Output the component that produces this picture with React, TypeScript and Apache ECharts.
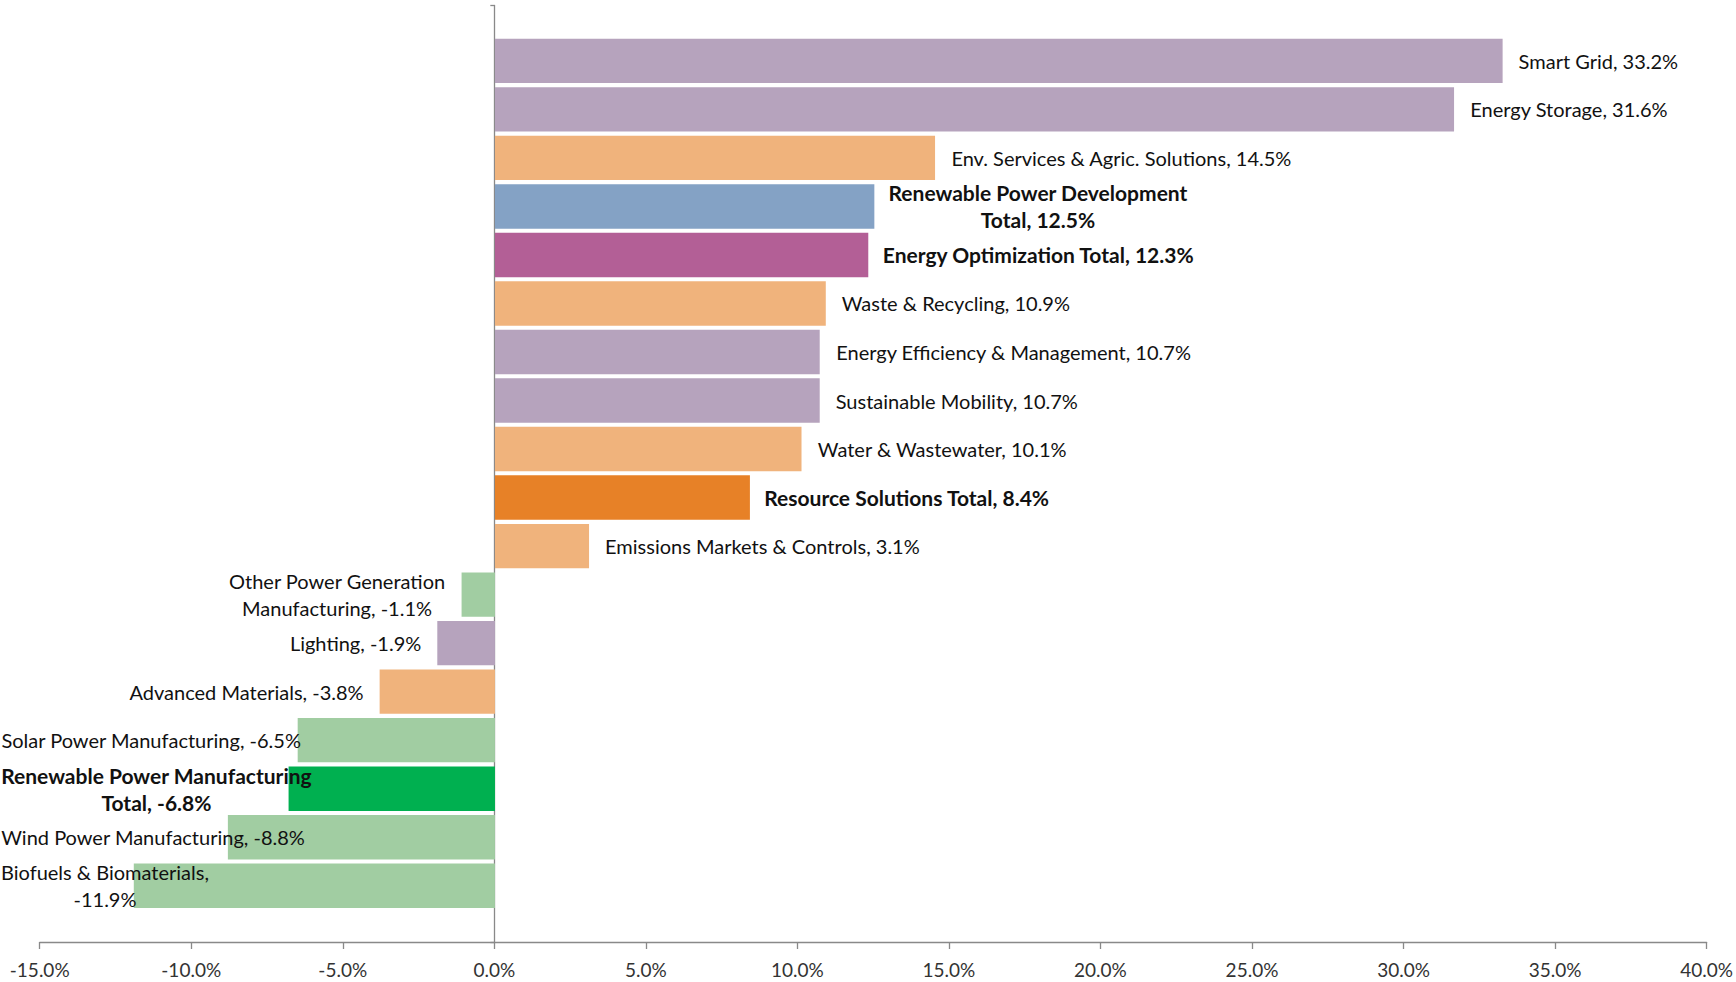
import React, { useEffect, useRef } from "react";
import * as echarts from "echarts";

const categories = [
  "Smart Grid",
  "Energy Storage",
  "Env. Services & Agric. Solutions",
  "Renewable Power Development Total",
  "Energy Optimization Total",
  "Waste & Recycling",
  "Energy Efficiency & Management",
  "Sustainable Mobility",
  "Water & Wastewater",
  "Resource Solutions Total",
  "Emissions Markets & Controls",
  "Other Power Generation Manufacturing",
  "Lighting",
  "Advanced Materials",
  "Solar Power Manufacturing",
  "Renewable Power Manufacturing Total",
  "Wind Power Manufacturing",
  "Biofuels & Biomaterials",
];

const values = [33.2, 31.6, 14.5, 12.5, 12.3, 10.9, 10.7, 10.7, 10.1, 8.4, 3.1, -1.1, -1.9, -3.8, -6.5, -6.8, -8.8, -11.9];

const groups = [
  "energy", "energy", "resource", "renewTotal", "energyTotal", "resource", "energy", "energy", "resource",
  "resourceTotal", "resource", "renew", "energy", "resource", "renew", "renewManTotal", "renew", "renew",
];

const groupColors: Record<string, string> = {
  energy: "#B6A3BD",
  resource: "#F0B37C",
  renewTotal: "#84A2C5",
  energyTotal: "#B35F96",
  resourceTotal: "#E78127",
  renew: "#A1CDA2",
  renewManTotal: "#00B050",
};

const boldGroups = ["renewTotal", "energyTotal", "resourceTotal", "renewManTotal"];

// where a label wraps onto a second line
const lineBreaks: Record<string, string> = {
  "Renewable Power Development Total": "Renewable Power Development\nTotal, {v}",
  "Other Power Generation Manufacturing": "Other Power Generation\nManufacturing, {v}",
  "Renewable Power Manufacturing Total": "Renewable Power Manufacturing\nTotal, {v}",
  "Biofuels & Biomaterials": "Biofuels & Biomaterials,\n{v}",
};

const xMin = -15;
const xMax = 40;
const xInterval = 5;

const FONT = "Lato";

export default function App() {
  const ref = useRef<HTMLDivElement>(null);
  useEffect(() => {
    if (!ref.current) return;
    const chart = echarts.init(ref.current, undefined, { renderer: "svg" });
    const data = values.map((v, i) => {
      const g = groups[i];
      const bold = boldGroups.includes(g);
      return {
        value: v,
        name: categories[i],
        itemStyle: { color: groupColors[g] },
        label: {
          position: v >= 0 ? "right" : "left",
          fontWeight: bold ? "bold" : "normal",
          fontSize: bold ? 21 : 20,
          distance: bold ? 14 : 16,
        },
      };
    });
    chart.setOption({
      animation: false,
      backgroundColor: "#ffffff",
      grid: [
        { left: 39.7, right: 27, top: 5.5, bottom: 40, containLabel: false },
        { left: 39.7, right: 27, top: 36.6, bottom: 72, containLabel: false },
      ],
      xAxis: [
        {
          type: "value",
          gridIndex: 0,
          min: xMin,
          max: xMax,
          interval: xInterval,
          splitLine: { show: false },
          axisLine: { show: true, onZero: false, lineStyle: { color: "#898989", width: 1.3 } },
          axisTick: { show: true, length: 7, lineStyle: { color: "#898989", width: 1.3 } },
          axisLabel: {
            margin: 18,
            fontFamily: FONT,
            fontSize: 19,
            color: "#333333",
            formatter: (v: number) => v.toFixed(1) + "%",
          },
        },
        {
          type: "value",
          gridIndex: 1,
          min: xMin,
          max: xMax,
          interval: xInterval,
          show: false,
          splitLine: { show: false },
        },
      ],
      yAxis: [
        {
          type: "value",
          gridIndex: 0,
          min: 0,
          max: 1,
          interval: 1,
          splitLine: { show: false },
          axisLine: { show: true, onZero: true, lineStyle: { color: "#898989", width: 1.3 } },
          axisTick: { show: true, length: 4, lineStyle: { color: "#898989", width: 1.3 } },
          axisLabel: { show: false },
        },
        {
          type: "category",
          gridIndex: 1,
          inverse: true,
          data: categories,
          show: false,
        },
      ],
      series: [
        {
          type: "bar",
          xAxisIndex: 1,
          yAxisIndex: 1,
          data,
          barCategoryGap: "8.5%",
          z: 1,
          label: {
            show: true,
            fontFamily: FONT,
            lineHeight: 27,
            color: "#111111",
            formatter: (p: any) => {
              const v = (p.value as number).toFixed(1) + "%";
              const t = lineBreaks[p.name];
              return t ? t.replace("{v}", v) : `${p.name}, ${v}`;
            },
          },
          labelLayout: (p: any) => {
            const r = p.labelRect;
            const left = Math.max(r.x, 1);
            return {
              x: left + r.width / 2,
              y: r.y + r.height / 2,
              align: "center",
              verticalAlign: "middle",
            };
          },
        },
      ],
    });
    return () => chart.dispose();
  }, []);
  return (
    <div
      ref={ref}
      style={{ position: "fixed", left: 0, top: 0, width: 1736, height: 982, background: "#fff" }}
    />
  );
}
